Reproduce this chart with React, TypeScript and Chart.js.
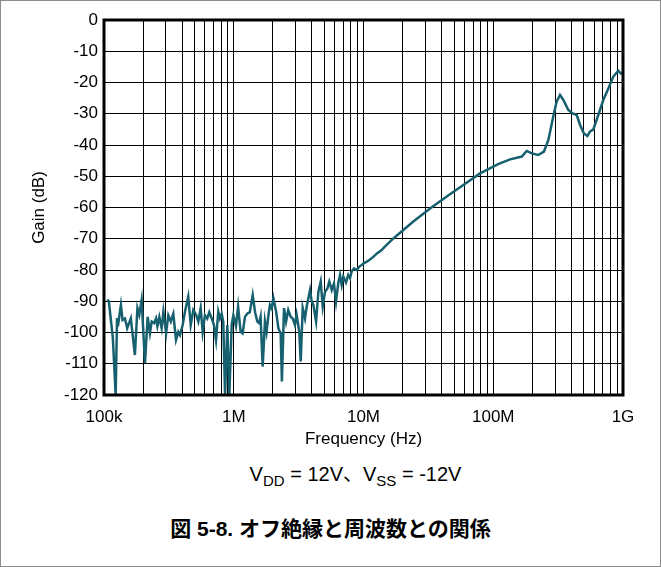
import React, { useEffect, useRef } from "react";
import { Chart, registerables } from "chart.js";

Chart.register(...registerables);

// Frequency (Hz) and gain (dB)
const freqHz = [
  106e3, 109e3, 117e3, 123e3, 126e3, 128e3, 135e3, 139e3, 145e3, 151e3, 161e3, 173e3, 181e3, 187e3, 195e3,
  207e3, 217e3, 226e3, 233e3, 243e3, 252e3, 258e3, 267e3, 278e3, 287e3, 301e3, 313e3, 327e3, 342e3,
  359e3, 374e3, 385e3, 404e3, 421e3, 446e3, 466e3, 488e3, 512e3, 533e3, 556e3, 576e3, 600e3, 625e3,
  648e3, 676e3, 704e3, 730e3, 760e3, 783e3, 807e3, 830e3, 857e3, 892e3, 925e3, 964e3, 993e3,
  1.04e6, 1.08e6, 1.13e6, 1.17e6, 1.22e6, 1.27e6, 1.33e6, 1.40e6, 1.46e6, 1.52e6, 1.57e6, 1.61e6, 1.67e6,
  1.74e6, 1.79e6, 1.85e6, 1.90e6, 1.96e6, 2.02e6, 2.12e6, 2.21e6, 2.30e6, 2.35e6, 2.44e6, 2.53e6, 2.63e6,
  2.75e6, 2.85e6, 2.96e6, 3.05e6, 3.20e6, 3.28e6, 3.40e6, 3.54e6, 3.65e6, 3.76e6, 3.87e6, 3.99e6, 4.11e6,
  4.31e6, 4.49e6, 4.68e6, 4.85e6, 5.05e6, 5.26e6, 5.45e6, 5.69e6, 5.92e6, 6.14e6, 6.40e6, 6.59e6, 6.79e6,
  6.99e6, 7.33e6, 7.63e6, 7.87e6, 8.11e6, 8.45e6, 8.87e6, 9.29e6, 9.69e6, 10.1e6, 10.6e6, 11.1e6, 11.9e6,
  12.7e6, 13.8e6, 14.6e6, 17.0e6, 24.2e6, 32.6e6, 43.8e6, 58.8e6, 79.1e6, 109e6, 135e6, 166e6, 181e6,
  198e6, 222e6, 246e6, 266e6, 290e6, 308e6, 327e6, 347e6, 379e6, 409e6, 440e6, 467e6, 500e6, 531e6,
  557e6, 591e6, 645e6, 705e6, 771e6, 842e6, 920e6, 960e6, 1e9,
];

const gainDb = [
  -89.5, -90, -101.8, -120, -95.4, -98, -91.2, -96, -95.5, -98.6, -95.5, -107.2, -92.2, -94.3, -89.6,
  -109.8, -95, -100.2, -96.5, -97, -95.5, -98, -95, -98.6, -93.3, -100.2, -94.5, -96.5, -94,
  -102.4, -99.8, -100.8, -97.6, -93.3, -88.5, -97.6, -92.8, -94.3, -96.5, -92.2, -99.8, -94.5, -95.5,
  -93.5, -95.5, -97.6, -102.4, -93.3, -95.5, -94, -96.5, -120, -97.6, -120, -97.6, -94.5,
  -98, -91.7, -99.8, -100.3, -95, -94, -93.5, -88, -93.5, -96.5, -97, -95, -110.9,
  -96.5, -99.8, -94.5, -91.2, -92.3, -89, -93.3, -98.7, -100.3, -115.7, -92.2, -96.5, -92.8,
  -95, -95.5, -97.6, -94.3, -99.8, -109.3, -92.2, -95.5, -91.7, -89, -86.4, -90.1, -91.2,
  -96.5, -87, -83.7, -91.7, -87, -86, -83.7, -86.4, -84.3, -90.1, -84, -81.6, -84.8,
  -82.1, -84, -81.6, -82.6, -80.5, -79.5, -80, -78.9, -78.4, -77.8, -77.3, -76.8, -75.8,
  -74.7, -73.6, -72.5, -69.9, -64.5, -60.3, -56.5, -52.8, -49.1, -46.1, -44.6, -43.7, -41.9,
  -42.7, -43.2, -42.1, -38.4, -30.9, -26.1, -24, -25.6, -28.8, -29.9, -30.4, -33.6, -36.3, -37.1,
  -35.7, -35, -30.4, -25.6, -21.9, -18.1, -16.2, -17.1, -17,
];

const decadeValues = [1e5, 1e6, 1e7, 1e8, 1e9];
const decadeLabels = ["100k", "1M", "10M", "100M", "1G"];
const yMin = -120;
const yMax = 0;
const yStep = 10;

const FONT = '"Liberation Sans", Arial, "Noto Sans CJK JP", sans-serif';

export default function App() {
  const ref = useRef<HTMLCanvasElement>(null);

  useEffect(() => {
    document.body.style.margin = "0";
    const canvas = ref.current;
    if (!canvas) return;

    const frame = {
      id: "frame",
      afterDraw(chart: any) {
        const { ctx, chartArea: a } = chart;
        ctx.save();
        ctx.strokeStyle = "#000";
        ctx.lineWidth = 3;
        ctx.strokeRect(a.left, a.top, a.right - a.left, a.bottom - a.top);
        ctx.restore();
      },
    };

    const chart = new Chart(canvas, {
      type: "line",
      data: {
        datasets: [
          {
            data: freqHz.map((f, i) => ({ x: f, y: gainDb[i] })),
            borderColor: "#17606f",
            borderWidth: 2.5,
            pointRadius: 0,
            tension: 0,
            fill: false,
          },
        ],
      },
      options: {
        animation: false,
        responsive: false,
        devicePixelRatio: 1,
        layout: { padding: { left: 26, top: 19, right: 37, bottom: 6 } },
        plugins: { legend: { display: false }, tooltip: { enabled: false } },
        scales: {
          x: {
            type: "logarithmic",
            min: 1e5,
            max: 1e9,
            afterBuildTicks(scale: any) {
              const t: any[] = [];
              for (let d = 5; d <= 9; d++) {
                for (let m = 1; m <= 9; m++) {
                  const v = m * Math.pow(10, d);
                  if (v > 1e9) break;
                  t.push({ value: v });
                }
              }
              scale.ticks = t;
            },
            afterFit(scale: any) {
              scale.height = 60;
            },
            ticks: {
              autoSkip: false,
              maxRotation: 0,
              padding: 12,
              color: "#000",
              font: { family: FONT, size: 17 },
              callback(value: any) {
                const i = decadeValues.findIndex((d) => Math.abs(d - value) / d < 1e-6);
                return i >= 0 ? decadeLabels[i] : "";
              },
            },
            grid: { color: "#000", lineWidth: 1, drawTicks: false },
            border: { display: false },
            title: {
              display: true,
              text: "Frequency (Hz)",
              color: "#000",
              font: { family: FONT, size: 17 },
              padding: { top: 0, bottom: 5 },
            },
          },
          y: {
            type: "linear",
            min: yMin,
            max: yMax,
            afterFit(scale: any) {
              scale.width = 77;
            },
            ticks: {
              stepSize: yStep,
              padding: 6,
              color: "#000",
              font: { family: FONT, size: 17 },
            },
            grid: { color: "#000", lineWidth: 1, drawTicks: false },
            border: { display: false },
            title: {
              display: true,
              text: "Gain (dB)",
              color: "#000",
              font: { family: FONT, size: 17 },
              padding: { top: 2, bottom: 0 },
            },
          },
        },
      },
      plugins: [frame],
    } as any);

    return () => chart.destroy();
  }, []);

  return (
    <div
      style={{
        position: "relative",
        width: 661,
        height: 567,
        boxSizing: "border-box",
        border: "1px solid #8c8c8c",
        background: "#fff",
        fontFamily: FONT,
        color: "#000",
      }}
    >
      <canvas
        ref={ref}
        width={659}
        height={460}
        style={{ position: "absolute", left: 0, top: 0, width: 659, height: 460 }}
      />
      <div
        style={{
          position: "absolute",
          left: 0,
          width: 659,
          top: 461,
          textAlign: "center",
          fontSize: 20,
          lineHeight: "24px",
          paddingLeft: 50,
          boxSizing: "border-box",
        }}
      >
        V<sub style={{ fontSize: 15, verticalAlign: -5, lineHeight: 0 }}>DD</sub> = 12V、V
        <sub style={{ fontSize: 15, verticalAlign: -5, lineHeight: 0 }}>SS</sub> = -12V
      </div>
      <div
        style={{
          position: "absolute",
          left: 0,
          width: 659,
          top: 515,
          textAlign: "center",
          fontSize: 21,
          fontWeight: "bold",
          lineHeight: "26px",
        }}
      >
        図 5-8. オフ絶縁と周波数との関係
      </div>
    </div>
  );
}
